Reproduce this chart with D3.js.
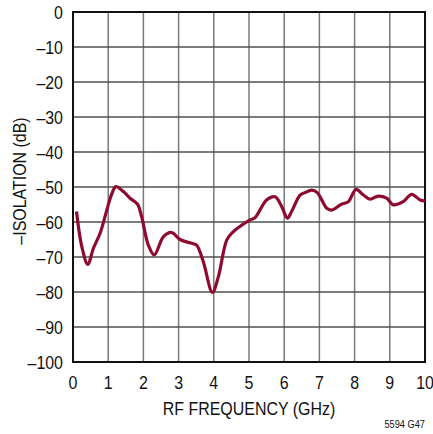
<!DOCTYPE html>
<html>
<head>
<meta charset="utf-8">
<script src="https://cdn.jsdelivr.net/npm/d3@7"></script>
<style>
  body { margin: 0; background: #fff; }
  text { font-family: "Liberation Sans", Arial, sans-serif; fill: #111; }
</style>
</head>
<body>
<script>
// isolation curve
var freq = [0.1, 0.25, 0.42, 0.58, 0.77, 0.96, 1.1, 1.22, 1.43, 1.62, 1.83, 1.95, 2.14, 2.31, 2.57, 2.8, 3.04, 3.37, 3.51, 3.7, 3.96, 4.13, 4.37, 4.55, 4.74, 4.9, 5.03, 5.17, 5.5, 5.74, 5.93, 6.09, 6.21, 6.45, 6.59, 6.78, 6.94, 7.21, 7.35, 7.63, 7.82, 8.04, 8.25, 8.44, 8.67, 8.91, 9.1, 9.38, 9.62, 9.86, 10];
var isolation = [-57, -67, -72.1, -67.5, -63.2, -56.6, -52, -49.9, -51.3, -53.2, -54.9, -58.5, -66.6, -69.4, -64.2, -63, -65, -66.1, -66.6, -71.3, -80.1, -75.6, -65.1, -62.8, -61.3, -60.2, -59.4, -58.8, -53.7, -52.8, -55.6, -58.9, -57, -52.3, -51.6, -50.9, -51.6, -56.1, -56.6, -54.9, -54.2, -50.7, -52.3, -53.5, -52.6, -53.2, -55.1, -54.2, -52.1, -53.7, -54];
var xTicks = [0, 1, 2, 3, 4, 5, 6, 7, 8, 9, 10];
var yTicks = [0, -10, -20, -30, -40, -50, -60, -70, -80, -90, -100];

var margin = {top: 12, right: 8, bottom: 72, left: 73},
    width = 433 - margin.left - margin.right,
    height = 434 - margin.top - margin.bottom;

var squeeze = 0.84; // fake a condensed face

var x = d3.scaleLinear().domain([0, 10]).range([0, width]);
var y = d3.scaleLinear().domain([-100, 0]).range([height, 0]);

var svg = d3.select("body").append("svg")
    .attr("width", 433)
    .attr("height", 434);

var canvas = svg.append("g")
    .attr("transform", "translate(" + margin.left + "," + margin.top + ")");

// grid
canvas.selectAll(".vgrid")
    .data(xTicks.slice(1, -1))
    .enter().append("line")
    .attr("x1", function(d){ return x(d); })
    .attr("x2", function(d){ return x(d); })
    .attr("y1", 0).attr("y2", height)
    .attr("stroke", "#7a7a7a").attr("stroke-width", 1.5);

canvas.selectAll(".hgrid")
    .data(yTicks.slice(1, -1))
    .enter().append("line")
    .attr("y1", function(d){ return y(d); })
    .attr("y2", function(d){ return y(d); })
    .attr("x1", 0).attr("x2", width)
    .attr("stroke", "#505050").attr("stroke-width", 1.5);

canvas.append("rect")
    .attr("width", width).attr("height", height)
    .attr("fill", "none").attr("stroke", "#111").attr("stroke-width", 2);

// tick labels
canvas.selectAll(".xlab")
    .data(xTicks)
    .enter().append("text")
    .attr("transform", function(d){ return "translate(" + x(d) + "," + (height + 27) + ") scale(" + squeeze + ",1)"; })
    .attr("text-anchor", "middle")
    .style("font-size", "19px")
    .text(function(d){ return d; });

canvas.selectAll(".ylab")
    .data(yTicks)
    .enter().append("text")
    .attr("transform", function(d){ return "translate(-10," + (y(d) + 7) + ") scale(" + squeeze + ",1)"; })
    .attr("text-anchor", "end")
    .style("font-size", "19px")
    .text(function(d){ return d < 0 ? "\u2013" + Math.abs(d) : d; });

// curve
var line = d3.line()
    .x(function(d, i){ return x(freq[i]); })
    .y(function(d){ return y(d); })
    .curve(d3.curveCatmullRom);

canvas.append("path")
    .datum(isolation)
    .attr("d", line)
    .attr("fill", "none")
    .attr("stroke", "#8e0b2f")
    .attr("stroke-width", 3.2)
    .attr("stroke-linejoin", "round");

// titles
svg.append("text")
    .attr("transform", "translate(" + (margin.left + width / 2) + ",415) scale(" + squeeze + ",1)")
    .attr("text-anchor", "middle")
    .style("font-size", "19px")
    .text("RF FREQUENCY (GHz)");

svg.append("text")
    .attr("transform", "translate(26,181) rotate(-90) scale(" + squeeze + ",1)")
    .attr("text-anchor", "middle")
    .style("font-size", "19px")
    .text("\u2013ISOLATION (dB)");

svg.append("text")
    .attr("transform", "translate(425,428) scale(" + squeeze + ",1)")
    .attr("text-anchor", "end")
    .style("font-size", "11px")
    .text("5594 G47");
</script>
</body>
</html>
